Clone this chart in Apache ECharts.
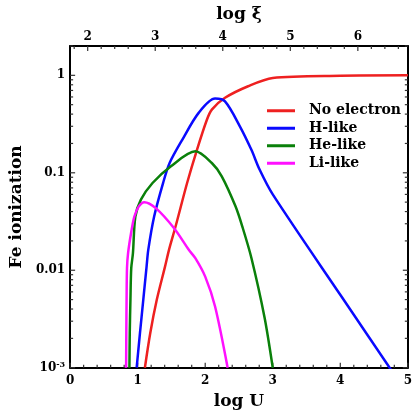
<!DOCTYPE html>
<html lang="en">
<head>
    <meta charset="UTF-8">
    <title>Fe ionization</title>
    <script src="https://cdn.jsdelivr.net/npm/echarts@6/dist/echarts.min.js"></script>
</head>
<body style="margin:0">
    <div style="width: 415px; height:415px" id="main"></div>
    <script type="text/javascript">
        // ionization fraction vs log U
        var redU   = [1.107, 1.186, 1.283, 1.405, 1.464, 1.561, 1.732, 1.878, 2.025, 2.098, 2.293, 2.635, 3.0, 4.0, 5.0]
        var redY   = [0.001, 0.00226, 0.00497, 0.0109, 0.0162, 0.0281, 0.0785, 0.172, 0.35, 0.445, 0.588, 0.773, 0.94, 0.99, 1.0]
        var blueU  = [0.985, 1.034, 1.083, 1.132, 1.157, 1.244, 1.376, 1.473, 1.66, 1.903, 2.146, 2.293, 2.513, 2.684, 2.805, 3.0, 4.0, 5.0]
        var blueY  = [0.001, 0.00226, 0.00497, 0.0109, 0.0162, 0.0356, 0.0785, 0.126, 0.218, 0.412, 0.578, 0.54, 0.30, 0.172, 0.108, 0.06, 0.0056, 0.00053]
        var greenU = [0.878, 0.883, 0.893, 0.905, 0.93, 0.966, 1.048, 1.22, 1.488, 1.854, 2.098, 2.245, 2.45, 2.55, 2.685, 2.878, 3.0]
        var greenY = [0.001, 0.0023, 0.005, 0.0105, 0.015, 0.0356, 0.053, 0.0785, 0.116, 0.166, 0.126, 0.092, 0.045, 0.028, 0.0133, 0.0033, 0.001]
        var pinkU  = [0.829, 0.832, 0.836, 0.842, 0.858, 0.902, 0.951, 1.015, 1.098, 1.268, 1.537, 1.757, 1.854, 2.0, 2.146, 2.332]
        var pinkY  = [0.001, 0.0023, 0.005, 0.0105, 0.015, 0.024, 0.0356, 0.045, 0.05, 0.0434, 0.0271, 0.0162, 0.0133, 0.0086, 0.00424, 0.001]

        var names = ['No electron', 'H-like', 'He-like', 'Li-like']
        var colors = ['#ee2020', '#0a0aff', '#0a800a', '#ff10ff']

        var uTicks = [0, 1, 2, 3, 4, 5]
        var xiTicks = [2, 3, 4, 5, 6]
        var yTicks = [-3, -2, -1, 0]
        var yTickLabels = ['{a|10}{s|-3}', '0.01', '0.1', '1']
        var xiOffset = 1.74   // log xi = log U + offset
        var yMax = Math.log10(2)

        var font = 'DejaVu Serif'

        // tick marks: [side, value, length]  side 0 bottom, 1 top, 2 left, 3 right
        var ticks = []
        for (var i = 0; i <= 25; i++) ticks.push([0, i * 0.2, i % 5 ? 3 : 5])
        for (var i = 9; i <= 33; i++) ticks.push([1, i * 0.2, i % 5 ? 3 : 5])
        for (var d = -3; d <= 0; d++) {
            for (var k = 1; k <= 9; k++) {
                var v = d + Math.log10(k)
                if (v <= yMax + 1e-9) {
                    ticks.push([2, v, k == 1 ? 5 : 3])
                    ticks.push([3, v, k == 1 ? 5 : 3])
                }
            }
        }

        var toSeries = (u, y) => u.map((x, i) => [x, Math.log10(y[i])])

        var labelFont = {fontFamily: font, fontWeight: 'bold', fontSize: 12, color: '#000'}
        var nameFont = {fontFamily: font, fontWeight: 'bold', fontSize: 17, color: '#000'}
        var frame = {show: true, onZero: false, lineStyle: {color: '#000', width: 2}}

        var ax = (pos, min, max, extra) => Object.assign({
            type: 'value', position: pos, min: min, max: max,
            axisLine: frame,
            axisTick: {show: false},
            axisLabel: {show: false},
            splitLine: {show: false}
        }, extra || {})

        var drawTick = (params, api) => {
            var side = api.value(0), v = api.value(1), len = api.value(2)
            var p, x2, y2
            if (side == 0) { p = api.coord([v, -3]); x2 = p[0]; y2 = p[1] - len }
            else if (side == 1) { p = api.coord([v - xiOffset, yMax]); x2 = p[0]; y2 = p[1] + len }
            else if (side == 2) { p = api.coord([0, v]); x2 = p[0] + len; y2 = p[1] }
            else { p = api.coord([5, v]); x2 = p[0] - len; y2 = p[1] }
            return {
                type: 'line',
                shape: {x1: p[0], y1: p[1], x2: x2, y2: y2},
                style: {stroke: '#333', lineWidth: 1.2}
            }
        }

        var myChart = echarts.init(document.getElementById('main'))
        var option = {
            animation: false,
            grid: {left: 66.7, right: 7, top: 46, bottom: 47.3},
            legend: {
                orient: 'vertical',
                left: 262, top: 97,
                icon: 'rect',
                itemWidth: 28, itemHeight: 3, itemGap: 0,
                textStyle: {fontFamily: font, fontWeight: 'bold', fontSize: 14, lineHeight: 17.5, color: '#000', padding: [0, 0, 0, 9]},
                data: names
            },
            xAxis: [
                ax('bottom', 0, 5, {
                    axisLabel: Object.assign({show: true, margin: 7, customValues: uTicks}, labelFont),
                    name: 'log U', nameLocation: 'middle', nameGap: 25, nameTextStyle: nameFont
                }),
                ax('top', xiOffset, 5 + xiOffset, {
                    axisLabel: Object.assign({show: true, margin: 3, customValues: xiTicks}, labelFont),
                    name: 'log ξ', nameLocation: 'middle', nameGap: 23, nameTextStyle: nameFont
                })
            ],
            yAxis: [
                ax('left', -3, yMax, {
                    axisLabel: Object.assign({
                        show: true, margin: 5, customValues: yTicks,
                        formatter: v => yTickLabels[yTicks.indexOf(Math.round(v))],
                        rich: {
                            a: labelFont,
                            s: {fontFamily: font, fontWeight: 'bold', fontSize: 8, color: '#000', verticalAlign: 'top', padding: [0, 0, 5, 0]}
                        }
                    }, labelFont),
                    name: 'Fe ionization', nameLocation: 'middle', nameGap: 43, nameTextStyle: nameFont
                }),
                ax('right', -3, yMax)
            ],
            series: [
                [redU, redY], [blueU, blueY], [greenU, greenY], [pinkU, pinkY]
            ].map((d, i) => ({
                name: names[i],
                type: 'line',
                xAxisIndex: 0,
                yAxisIndex: 0,
                symbol: 'none',
                smooth: 0.3,
                clip: true,
                itemStyle: {color: colors[i]},
                lineStyle: {color: colors[i], width: 2.5},
                data: toSeries(d[0], d[1])
            })).concat([{
                type: 'custom',
                xAxisIndex: 0,
                yAxisIndex: 0,
                clip: false,
                silent: true,
                renderItem: drawTick,
                data: ticks
            }])
        }
        myChart.setOption(option)
    </script>
</body>
</html>
